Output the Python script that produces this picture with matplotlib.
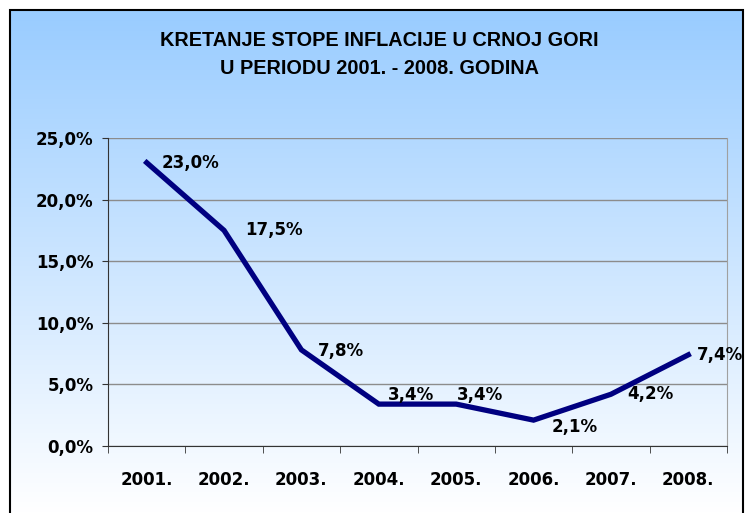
import numpy as np
import matplotlib.pyplot as plt
from matplotlib.colors import LinearSegmentedColormap
from matplotlib.patches import Rectangle

# podaci
godine = ["2001.", "2002.", "2003.", "2004.", "2005.", "2006.", "2007.", "2008."]
inflacija = [23.0, 17.5, 7.8, 3.4, 3.4, 2.1, 4.2, 7.4]
y_ticks = [0, 5, 10, 15, 20, 25]

plt.rcParams['font.family'] = ['DejaVu Sans']

W, H = 746, 513
fig = plt.figure(figsize=(W / 100, H / 100), dpi=100)

# pozadina sa prelivom (plavo -> bijelo)
cmap = LinearSegmentedColormap.from_list("bg", ["#99ccff", "#ffffff"])
bg = fig.add_axes([10 / W, 0, 733 / W, 1 - 10 / H], zorder=-5)
bg.imshow(np.linspace(0, 1, 256).reshape(-1, 1), aspect="auto", cmap=cmap,
          extent=[0, 1, 0, 1])
bg.set_axis_off()
fig.patches.append(Rectangle((10 / W, -0.01), 733 / W, 1 - 10 / H + 0.01,
                             transform=fig.transFigure, fill=False,
                             edgecolor="black", linewidth=1.5, zorder=10))

# naslov
naslov_font = ['Liberation Sans', 'DejaVu Sans']
fig.text(379 / W, 1 - 41 / H, "KRETANJE STOPE INFLACIJE U CRNOJ GORI",
         ha="center", va="center", fontsize=14.3, fontweight="bold",
         family=naslov_font)
fig.text(379 / W, 1 - 68 / H, "U PERIODU 2001. - 2008. GODINA",
         ha="center", va="center", fontsize=14.3, fontweight="bold",
         family=naslov_font)

# oblast grafika
left, right, top, bottom = 108, 727, 138, 446
ax = fig.add_axes([left / W, 1 - bottom / H, (right - left) / W, (bottom - top) / H])
ax.patch.set_alpha(0)

x = np.arange(len(godine))
ax.plot(x, inflacija, color="#000080", linewidth=3.8, solid_joinstyle="miter",
        zorder=3)

offsets = [(11, 0), (15, 0), (12, -1), (6.5, 6.5), (0.5, 6.5), (13, -5), (11.5, 0), (6, 0)]
for xi, yi, off in zip(x, inflacija, offsets):
    ax.annotate(f"{yi:.1f}%".replace(".", ","), (xi, yi), xytext=off,
                textcoords="offset points", ha="left", va="center",
                fontsize=12, fontweight="bold", zorder=4, annotation_clip=False)

ax.set_xlim(-0.5, len(godine) - 0.5)
ax.set_ylim(0, 25)
ax.set_yticks(y_ticks)
ax.set_yticklabels([f"{t:.1f}%".replace(".", ",") for t in y_ticks],
                   fontsize=12, fontweight="bold")
ax.set_xticks(x)
ax.set_xticklabels(godine, fontsize=12, fontweight="bold")
ax.set_xticks(np.arange(-0.5, len(godine)), minor=True)
ax.tick_params(axis="x", which="major", length=0, pad=18)
ax.tick_params(axis="x", which="minor", length=5, color="#333333")
ax.tick_params(axis="y", length=4.5, color="#333333", pad=6)

ax.grid(axis="y", color="#8c8c8c", linewidth=1)
ax.set_axisbelow(True)
for s in ["left", "bottom"]:
    ax.spines[s].set_color("#333333")
ax.spines["right"].set_color("#a0a0a0")
ax.spines["top"].set_visible(False)

fig.savefig("out.png", dpi=100)
